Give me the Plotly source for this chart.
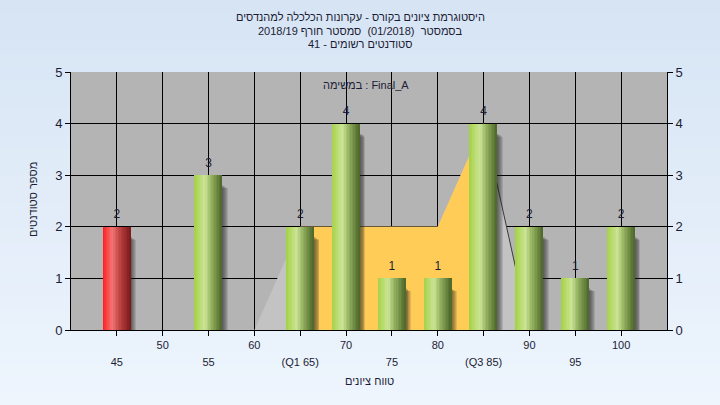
import plotly.graph_objects as go

# ---------------- data ----------------
grades = [45, 50, 55, 60, 65, 70, 75, 80, 85, 90, 95, 100]
counts = [2, 0, 3, 0, 2, 4, 1, 1, 4, 2, 1, 2]
pass_grade = 55

spread_x = [60, 65, 70, 75, 80, 85, 90]
spread_y = [0, 2, 2, 2, 2, 4, 0]
iqr_x = [65, 70, 75, 80, 85]
iqr_y = [2, 2, 2, 2, 4]

row1_ticks = [50, 60, 70, 80, 90, 100]
row2_ticks = [45, 55, 65, 75, 85, 95]
row2_text = ["45", "55", "(Q1 65)", "75", "(Q3 85)", "95"]

title_lines = [
    "היסטוגרמת ציונים בקורס - עקרונות הכלכלה למהנדסים",
    "בסמסטר  (01/2018)  סמסטר חורף 2018/19",
    "סטודנטים רשומים - 41",
]
task_label = "במשימה : Final_A"
x_title = "טווח ציונים"
y_title = "מספר סטודנטים"

# ---------------- layout geometry ----------------
W, H = 720, 405
L, R, T, B = 71, 53, 72, 75
PW, PH = W - L - R, H - T - B
FONT = "Liberation Sans, Arial, sans-serif"
TXT = "#1c1c34"


def px_to_paper_y(py):
    return (H - B - py) / PH


def px_to_paper_x(px):
    return (px - L) / PW


def lerp_color(stops, t):
    for (t0, c0), (t1, c1) in zip(stops, stops[1:]):
        if t0 <= t <= t1:
            f = (t - t0) / (t1 - t0) if t1 > t0 else 0
            c = [round(a + (b - a) * f) for a, b in zip(c0, c1)]
            return "rgb(%d,%d,%d)" % tuple(c)
    return "rgb(%d,%d,%d)" % tuple(stops[-1][1])


green = [(0.0, (164, 210, 70)), (0.38, (204, 228, 150)), (0.6, (150, 180, 98)), (1.0, (76, 102, 40))]
red = [(0.0, (255, 28, 28)), (0.35, (242, 118, 118)), (0.6, (196, 70, 70)), (1.0, (122, 24, 24))]

fig = go.Figure()

# spread / interquartile areas (main subplot, under the bars)
fig.add_trace(go.Scatter(x=spread_x, y=spread_y, mode="lines", fill="tozeroy",
                         fillcolor="#c3c3c3", line=dict(width=0), hoverinfo="skip",
                         showlegend=False, xaxis="x", yaxis="y"))
fig.add_trace(go.Scatter(x=spread_x[-2:], y=spread_y[-2:], mode="lines",
                         line=dict(color="#3a3a3a", width=1), hoverinfo="skip",
                         showlegend=False, xaxis="x", yaxis="y"))
fig.add_trace(go.Scatter(x=iqr_x, y=iqr_y, mode="lines", fill="tozeroy",
                         fillcolor="#ffcc58", line=dict(width=0), hoverinfo="skip",
                         showlegend=False, xaxis="x", yaxis="y"))

# bars (overlay subplot)
bx = [g for g, c in zip(grades, counts) if c > 0]
by = [c for c in counts if c > 0]
bar_w = 3.0

for k in range(6, 0, -1):
    off = 0.1 * k
    fig.add_trace(go.Bar(x=bx, y=[v - 0.1 - 0.012 * k for v in by], base=-0.08, width=bar_w,
                         offset=-bar_w / 2 + off,
                         marker=dict(color="rgba(30,30,30,0.13)", line=dict(width=0)),
                         hoverinfo="skip", showlegend=False, xaxis="x2", yaxis="y2"))

N = 18
step = bar_w / N
for i in range(N):
    t = (i + 0.5) / N
    cols = [lerp_color(red if g < pass_grade else green, t) for g in bx]
    w = step * 1.25 if i < N - 1 else step
    fig.add_trace(go.Bar(x=bx, y=by, width=w, offset=-bar_w / 2 + i * step,
                         marker=dict(color=cols, line=dict(width=0)),
                         hoverinfo="skip", showlegend=False, xaxis="x2", yaxis="y2"))

fig.add_trace(go.Scatter(x=bx, y=by, mode="markers+text", text=[str(v) for v in by],
                         textposition="top center",
                         marker=dict(size=7, color="rgba(0,0,0,0)"),
                         textfont=dict(family=FONT, size=12, color=TXT),
                         hoverinfo="skip", showlegend=False, xaxis="x2", yaxis="y2"))

# background gradient bands + plot bg
shapes = []
nb = 30
top_c, bot_c = (214, 228, 244), (238, 245, 253)
for i in range(nb):
    y0 = H * i / nb
    y1 = H * (i + 1) / nb + 1
    f = (i + 0.5) / nb
    c = tuple(round(a + (b - a) * f) for a, b in zip(top_c, bot_c))
    shapes.append(dict(type="rect", xref="paper", yref="paper", layer="below",
                       x0=px_to_paper_x(0), x1=px_to_paper_x(W),
                       y0=px_to_paper_y(y1), y1=px_to_paper_y(y0),
                       line=dict(width=0), fillcolor="rgb(%d,%d,%d)" % c))
shapes.append(dict(type="rect", xref="paper", yref="paper", layer="below",
                   x0=0, x1=1, y0=0, y1=1, line=dict(width=0), fillcolor="#b4b4b4"))

all_ticks = sorted(row1_ticks + row2_ticks)
row1_text = [str(v) if v in row1_ticks else "" for v in all_ticks]

xr = [40, 105]
axis_common = dict(showline=True, linecolor="black", linewidth=1, ticks="outside",
                   ticklen=5, tickcolor="black", zeroline=False)


def ann(text, px, py, size=11, angle=0):
    return dict(text=text, x=px_to_paper_x(px), y=px_to_paper_y(py), xref="paper", yref="paper",
                xanchor="center", yanchor="middle", textangle=angle, showarrow=False,
                font=dict(family=FONT, size=size, color=TXT))


annotations = [
    ann(task_label, 366, 85),
    ann(x_title, 369, 381),
    ann(y_title, 33, 200, angle=-90),
]
for py, line in zip([17, 31, 44], title_lines):
    annotations.append(ann(line, 360, py))

fig.update_layout(
    width=W, height=H,
    margin=dict(l=L, r=R, t=T, b=B, autoexpand=False),
    paper_bgcolor="#e4eef9", plot_bgcolor="rgba(0,0,0,0)",
    barmode="overlay", bargap=0,
    showlegend=False,
    font=dict(family=FONT, color=TXT),
    xaxis=dict(range=xr, tickmode="array", tickvals=all_ticks, ticktext=row1_text,
               showgrid=True, gridcolor="black", gridwidth=1,
               tickfont=dict(family=FONT, size=11, color=TXT), **axis_common),
    yaxis=dict(range=[0, 5], dtick=1, showgrid=True, gridcolor="black", gridwidth=1,
               tickfont=dict(family=FONT, size=13, color=TXT), **axis_common),
    xaxis2=dict(range=xr, overlaying="x", side="bottom", anchor="y2", tickmode="array",
                tickvals=row2_ticks, ticktext=row2_text, showgrid=False, showline=False,
                ticks="", zeroline=False, ticklabelstandoff=24,
                tickfont=dict(family=FONT, size=11, color=TXT)),
    yaxis2=dict(range=[0, 5], dtick=1, overlaying="y", side="right", anchor="x2",
                showgrid=False, tickfont=dict(family=FONT, size=13, color=TXT), **axis_common),
    shapes=shapes,
    annotations=annotations,
)

fig.write_html("out.html", config={"displayModeBar": False},
               post_script="document.body.style.margin='0';")
